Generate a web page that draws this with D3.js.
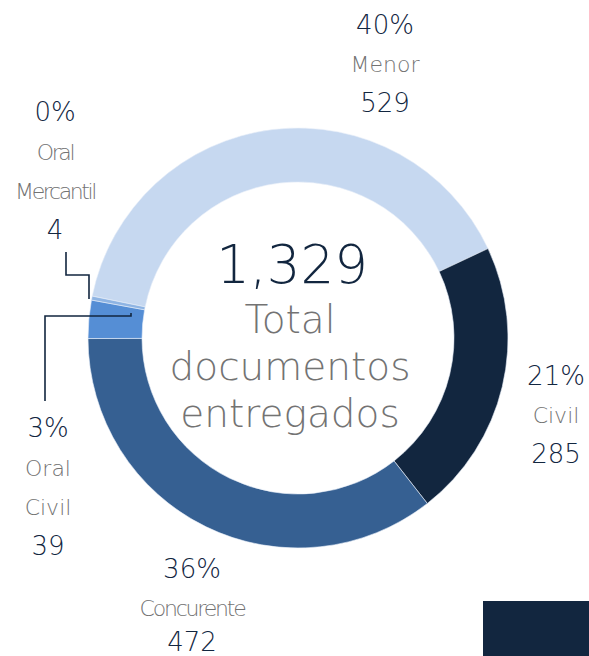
<!DOCTYPE html>
<html>
<head>
<meta charset="utf-8">
<script src="https://cdn.jsdelivr.net/npm/d3@7"></script>
<style>
  body { margin: 0; background: #fff; }
  svg text { font-family: "DejaVu Sans", sans-serif; font-weight: 200; }
</style>
</head>
<body>
<svg width="589" height="656"></svg>
<script>
// data
var categories = ["Menor", "Civil", "Concurente", "Oral Civil", "Oral Mercantil"];
var values = [529, 285, 472, 39, 4];
var percents = ["40%", "21%", "36%", "3%", "0%"];
var colors = ["#c6d8f0", "#12263f", "#366092", "#558ed5", "#8eb4e3"];
var totalLabel = ["Total", "documentos", "entregados"];

var navy = "#12263f";
var grey = "#737373";

var svg = d3.select("svg");
var cx = 298, cy = 338;
var outerR = 210, innerR = 156;

var startAngle = -78.5 * Math.PI / 180;
var pie = d3.pie().sort(null).value(function(d) { return d; })
  .startAngle(startAngle).endAngle(startAngle + 2 * Math.PI);
var arc = d3.arc().innerRadius(innerR).outerRadius(outerR);

var g = svg.append("g").attr("transform", "translate(" + cx + "," + cy + ")");
g.selectAll("path")
  .data(pie(values))
  .enter()
  .append("path")
  .attr("d", arc)
  .attr("fill", function(d, i) { return colors[i]; })
  .attr("stroke", "#e8eef8")
  .attr("stroke-width", 0.6);

// centre text
var total = d3.sum(values);
g.append("text")
  .attr("text-anchor", "middle")
  .attr("x", -6)
  .attr("y", -55)
  .attr("font-size", 53)
  .attr("fill", navy)
  .text(d3.format(",")(total));
totalLabel.forEach(function(t, i) {
  g.append("text")
    .attr("text-anchor", "middle")
    .attr("x", -8)
    .attr("y", -5 + i * 47)
    .attr("font-size", 39)
    .attr("fill", grey)
    .text(t);
});

// outside labels: pct, name lines, value
var labelPos = [
  {x: 385, y: 34, names: ["Menor"], tight: 0},
  {x: 556, y: 385, names: ["Civil"], tight: 0},
  {x: 192, y: 578, names: ["Concurente"], tight: -2.2},
  {x: 48, y: 437, names: ["Oral", "Civil"], tight: 0},
  {x: 55, y: 121, names: ["Oral", "Mercantil"], tight: -2.4}
];

labelPos.forEach(function(p, i) {
  var lg = svg.append("g");
  var y = p.y;
  lg.append("text").attr("x", p.x).attr("y", y)
    .attr("text-anchor", "middle").attr("font-size", 26).attr("fill", navy)
    .text(percents[i]);
  p.names.forEach(function(n) {
    y += (p.names.length > 1 ? 39 : 38);
    lg.append("text").attr("x", p.x).attr("y", y)
      .attr("text-anchor", "middle").attr("font-size", 22).attr("fill", grey)
      .attr("letter-spacing", p.tight)
      .text(n);
  });
  y += 40;
  lg.append("text").attr("x", p.x).attr("y", Math.min(y, 651))
    .attr("text-anchor", "middle").attr("font-size", 26).attr("fill", navy)
    .text(values[i]);
});

// leader lines for the two small slices
var line = d3.line();
svg.append("path")
  .attr("d", line([[66, 252], [66, 275], [89, 275], [89, 299]]))
  .attr("fill", "none").attr("stroke", navy).attr("stroke-width", 1.6);
svg.append("path")
  .attr("d", line([[45, 401], [45, 316], [131, 316], [131, 313]]))
  .attr("fill", "none").attr("stroke", navy).attr("stroke-width", 1.6);

// dark block bottom right
svg.append("rect")
  .attr("x", 483).attr("y", 601).attr("width", 106).attr("height", 55)
  .attr("fill", navy);
</script>
</body>
</html>
